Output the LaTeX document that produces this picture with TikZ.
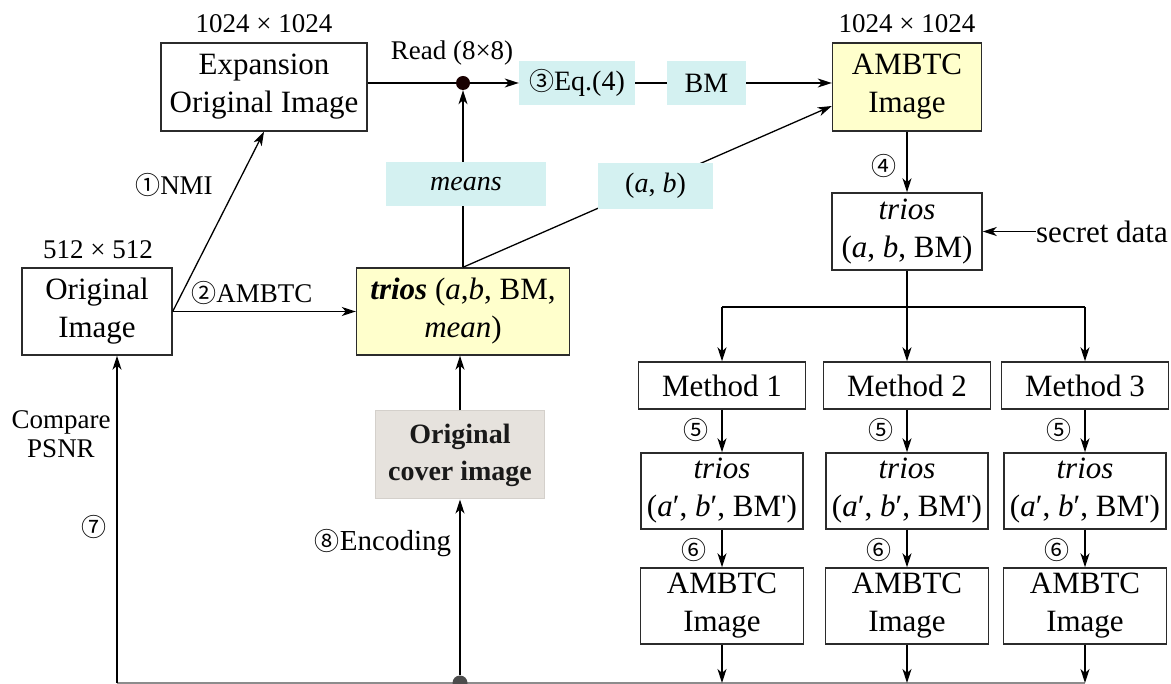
\documentclass[tikz,border=0pt]{standalone}
\usepackage{fontspec}
\setmainfont{Liberation Serif}
\newfontfamily\figfont{Liberation Serif}
\newfontfamily\circfont{Noto Sans CJK SC}
\usetikzlibrary{arrows.meta}
\definecolor{tealfill}{HTML}{D4F1F1}
\definecolor{yellowfill}{HTML}{FFFFCC}
\definecolor{coverfill}{HTML}{E6E2DD}
\definecolor{coverline}{HTML}{D4D0CB}
\definecolor{edge}{HTML}{2B2B2B}
\newcommand{\circnum}[1]{{\circfont\fontsize{25}{25}\selectfont #1}}
\tikzset{
  box/.style={draw=edge, line width=1.4pt, inner sep=0pt, align=center,
              font=\figfont\fontsize{31}{38}\selectfont},
  tag/.style={fill=tealfill, inner sep=0pt, align=center, minimum height=44pt,
              font=\figfont\fontsize{28}{34}\selectfont},
  lbl/.style={inner sep=0pt, align=center, font=\figfont\fontsize{27}{32}\selectfont},
  conn/.style={line width=1.3pt, draw=black},
  arr/.style={conn, -{Stealth[length=14pt,width=9pt,inset=4pt]}},
  junction/.style={circle, inner sep=0pt, minimum size=14pt}
}
\begin{document}
\begin{tikzpicture}[x=1pt,y=-1pt]
\useasboundingbox (0,0) rectangle (1171,684);

% main boxes
\node[box, minimum width=206pt, minimum height=88pt] (expand) at (264,87) {Expansion\\Original Image};
\node[box, minimum width=150pt, minimum height=87pt] (orig) at (97,311.5) {Original\\Image};
\node[box, fill=yellowfill, minimum width=213pt, minimum height=87pt] (trios1) at (463,311.5)
  {\textbf{\textit{trios}} (\textit{a},\textit{b}, BM,\\\textit{mean})};
\node[box, fill=yellowfill, minimum width=149pt, minimum height=88pt] (ambtc) at (907,87) {AMBTC\\Image};
\node[box, minimum width=150pt, minimum height=77pt] (trios2) at (907,231.5) {\textit{trios}\\(\textit{a}, \textit{b}, BM)};
\node[fill=coverfill, draw=coverline, line width=1pt, inner sep=0pt, align=center,
      minimum width=169pt, minimum height=88pt, font=\figfont\fontsize{28}{37}\selectfont\bfseries,
      text=black!90] (cover) at (460,455) {Original\\cover image};

% read junction
\node[junction, fill=black!90!red] (dot) at (463,83) {};

% lines that pass behind the teal tags
\draw[arr] (trios1.north) -- (dot);
\draw[arr] (trios1.north) -- ([yshift=-19pt]ambtc.west);

% teal tags
\node[tag, minimum width=116pt] (eq) at (577,83) {\circnum{③}Eq.(4)};
\node[tag, minimum width=79pt] (bm) at (706.5,83) {BM};
\node[tag, minimum width=160pt] (means) at (466,184) {\textit{means}};
\node[tag, minimum width=115pt, minimum height=46pt] (ab) at (655.5,186) {(\textit{a}, \textit{b})};

% method columns
\foreach \i/\x in {1/722,2/907,3/1085}{
  \node[box, minimum width=167pt, minimum height=47pt] (m\i) at (\x,385.5) {Method \i};
  \node[box, minimum width=162pt, minimum height=76pt] (t\i) at (\x,491)
    {\textit{trios}\\(\textit{a}′, \textit{b}′, BM\textquotesingle)};
  \node[box, minimum width=163pt, minimum height=76pt] (a\i) at (\x,606) {AMBTC\\Image};
  \draw[arr] (m\i) -- (t\i);
  \draw[arr] (t\i) -- (a\i);
  \node[lbl] (five\i) at (\x-26,430) {\circnum{⑤}};
  \node[lbl] (six\i) at (\x-28,550) {\circnum{⑥}};
}

% size labels
\node[lbl] (sz1) at (264,24) {1024 × 1024};
\node[lbl] (sz2) at (907,24) {1024 × 1024};
\node[lbl] (sz0) at (98,250) {512 × 512};
\node[lbl] (read) at (452,53) {Read (8×8)};

% top flow
\draw[conn] (expand.east |- dot) -- (dot);
\draw[arr] (dot) -- (eq);
\draw[conn] (eq) -- (bm);
\draw[arr] (bm) -- (bm -| ambtc.west);
\draw[arr] (orig.east) -- (expand.south);
\draw[arr] (orig.east) -- (trios1.west);
\node[lbl] (nmi) at (174,185) {\circnum{①}NMI};
\node[lbl] (amb) at (252,293) {\circnum{②}AMBTC};
\draw[arr] (ambtc.south) -- (trios2.north);
\node[lbl] (four) at (884,166) {\circnum{④}};
\node[lbl, font=\figfont\fontsize{31}{36}\selectfont] (secret) at (1102,231.5) {secret data};
\draw[arr] (secret.west) -- (trios2.east);

% branch to the three methods
\coordinate (br) at (907,307);
\draw[conn] (trios2.south) -- (br);
\draw[conn] (m1.north |- br) -- (m3.north |- br);
\foreach \i in {1,2,3}{\draw[arr] (m\i.north |- br) -- (m\i.north);}

% bottom return line
\coordinate (cmp) at (117,683);
\draw[conn, draw=black!45] (cmp) -- (a3.south |- cmp);
\foreach \i in {1,2,3}{\draw[arr] (a\i.south) -- (a\i.south |- cmp);}
\draw[arr] (cmp) -- (cmp |- orig.south);
\node[junction, fill=black!70, minimum size=15pt] (bdot) at (460,683) {};
\draw[arr] (bdot) -- (cover.south);
\draw[arr] (cover.north) -- (cover.north |- trios1.south);

\node[lbl, font=\figfont\fontsize{27}{29}\selectfont] (psnr) at (61,434) {Compare\\PSNR};
\node[lbl] (seven) at (94,527) {\circnum{⑦}};
\node[lbl, font=\figfont\fontsize{29}{34}\selectfont] (enc) at (383,543) {\circnum{⑧}Encoding};
\end{tikzpicture}
\end{document}
